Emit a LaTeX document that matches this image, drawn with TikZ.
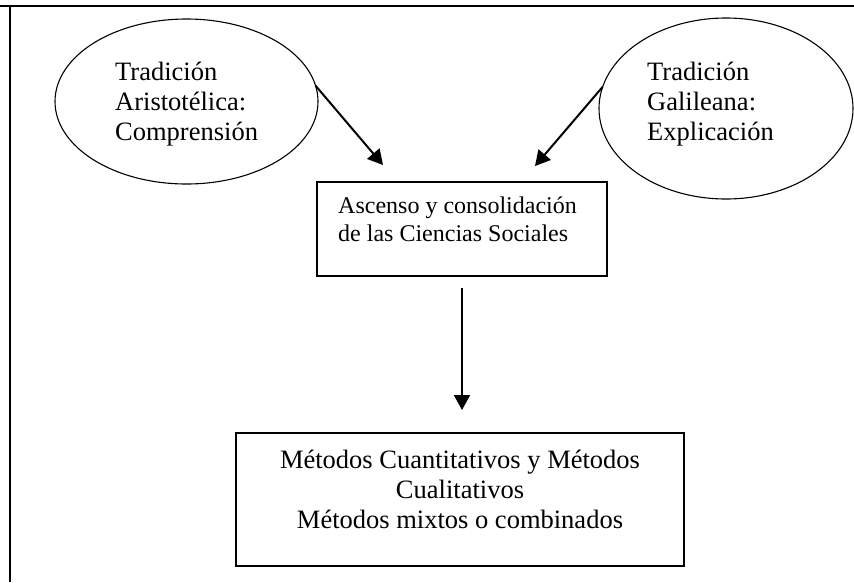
\documentclass[tikz,border=0pt]{standalone}
\usepackage{fontspec}
\setmainfont{Liberation Serif}
\usetikzlibrary{shapes.geometric,arrows.meta}
\begin{document}
\begin{tikzpicture}[x=1pt,y=-1pt,
  ell/.style={draw,ellipse,line width=1.1pt,inner sep=0pt,outer sep=0pt},
  boxn/.style={draw,rectangle,line width=1.5pt,inner sep=0pt,outer sep=0pt},
  txtA/.style={font=\fontsize{26.5}{30}\selectfont,align=left,inner sep=0pt,anchor=west},
  arr/.style={line width=2pt,-{Triangle[length=15pt,width=16pt]}},
  frameline/.style={line width=2.2pt}]
\useasboundingbox (0,0) rectangle (854,582);
\draw[frameline] (0,6) -- (854,6);
\draw[frameline] (10,6) -- (10,582);
\node[ell,minimum width=263pt,minimum height=165pt] (lell) at (186.5,101.5) {};
\node[ell,minimum width=254pt,minimum height=181pt] (rell) at (726,108.5) {};
\node[txtA] (ltxt) at (115,103.8) {Tradición\\Aristotélica:\\Comprensión};
\node[txtA] (rtxt) at (647,103.8) {Tradición\\Galileana:\\Explicación};
\node[boxn,minimum width=290pt,minimum height=94pt] (mid) at (462,229) {};
\node[font=\fontsize{24}{28}\selectfont,align=left,inner sep=0pt,anchor=west] (midtxt) at (338,218.8) {Ascenso y consolidación\\de las Ciencias Sociales};
\node[boxn,minimum width=448pt,minimum height=133pt] (bot) at (460,499.5) {};
\node[font=\fontsize{26.5}{30}\selectfont,align=center,inner sep=0pt] (bottxt) at (460,489) {Métodos Cuantitativos y Métodos\\Cualitativos\\Métodos mixtos o combinados};
\coordinate (t1) at (383,165);
\coordinate (t2) at (535,166);
\draw[arr] (lell.7) -- (t1);
\draw[arr] (rell.170) -- (t2);
\draw[arr,shorten <=12pt,shorten >=23pt] (mid.south) -- (mid.south |- bot.north);
\end{tikzpicture}
\end{document}
